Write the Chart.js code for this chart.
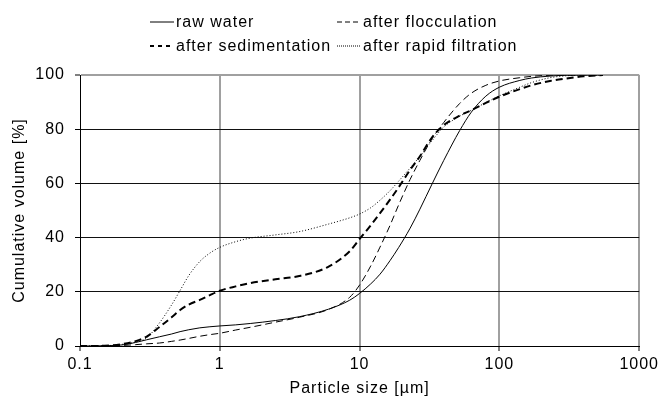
<!DOCTYPE html>
<html>
<head>
<meta charset="utf-8">
<script src="https://cdn.jsdelivr.net/npm/chart.js@4.4.1/dist/chart.umd.min.js"></script>
<style>
  html, body { margin: 0; padding: 0; background: #fff; }
  #wrap { width: 663px; height: 402px; }
</style>
</head>
<body>
<div id="wrap"><canvas id="myChart"></canvas></div>
<script>
// particle sizes [µm] the curves were read at
const sizes = [0.1, 0.15, 0.2, 0.25, 0.3, 0.37, 0.45, 0.52, 0.6, 0.72, 0.85, 1, 1.3, 1.65, 2.5, 3.7, 6, 8.5, 10, 12, 14, 16.5, 19, 23, 27, 33, 40, 52, 63, 80, 100, 140, 170, 230, 300, 400, 550];

const rawWater = [0, 0.1, 0.4, 1.3, 2.3, 3.4, 4.4, 5.3, 6.0, 6.7, 7.1, 7.4, 7.8, 8.3, 9.4, 10.8, 13.6, 16.9, 19.4, 22.9, 26.5, 31.5, 36.3, 43.5, 50.5, 59.8, 68.5, 79.5, 86.3, 92.2, 95.5, 98, 98.9, 99.6, 99.9, 100, 100];
const afterFlocculation = [0, 0, 0.2, 0.5, 0.8, 1.1, 1.7, 2.2, 2.8, 3.6, 4.2, 4.7, 5.9, 6.9, 8.8, 10.6, 13.5, 18, 22.5, 29.5, 36.5, 44.5, 52, 61.5, 68.5, 76.5, 82.5, 89.5, 93.3, 96.2, 97.8, 99, 99.5, 99.9, 100, 100, 100];
const afterSedimentation = [0, 0.1, 0.7, 1.8, 3.5, 7, 10.5, 13.3, 15.3, 17, 18.8, 20.4, 22, 23.2, 24.6, 25.8, 29.3, 35, 39.5, 44.5, 49, 54, 58.5, 65, 70, 77, 81.5, 85, 87, 89.7, 92, 94.8, 96.2, 97.8, 98.7, 99.5, 100];
const afterRapidFiltration = [0, 0.1, 0.6, 1.5, 3, 8.5, 15, 20.5, 26, 31.2, 34.3, 36.4, 38.5, 39.8, 41, 42.2, 45, 47.3, 48.7, 51, 53.8, 57.3, 60.8, 65.7, 70, 75.8, 80.8, 84.8, 87, 89.8, 92.3, 95.5, 97.2, 99, 99.7, 100, 100];

const seriesNames = ["raw water", "after flocculation", "after sedimentation", "after rapid filtration"];
const xTicks = [0.1, 1, 10, 100, 1000];
const xTickLabels = ["0.1", "1", "10", "100", "1000"];
const yTicks = [0, 20, 40, 60, 80, 100];

const FONT = "'Liberation Sans', Arial, sans-serif";

function pts(values) {
    return sizes.map((s, i) => ({ x: s, y: values[i] }));
}

// canvas text is a bit wider in the original
function spacing(chart) {
    chart.ctx.letterSpacing = '1px';
}

const legendPlugin = {
    id: 'twoRowLegend',
    beforeLayout: spacing,
    beforeDraw: spacing,
    afterDraw(chart) {
        const ctx = chart.ctx;
        const spots = [
            { i: 0, x: 150, y: 22 },
            { i: 1, x: 337, y: 22 },
            { i: 2, x: 150, y: 46 },
            { i: 3, x: 337, y: 46 }
        ];
        ctx.save();
        spots.forEach(s => {
            const ds = chart.data.datasets[s.i];
            ctx.beginPath();
            ctx.setLineDash(ds.legendDash);
            ctx.lineWidth = ds.borderWidth;
            ctx.strokeStyle = ds.borderColor;
            ctx.moveTo(s.x, s.y);
            ctx.lineTo(s.x + 24, s.y);
            ctx.stroke();
            ctx.setLineDash([]);
            ctx.fillStyle = '#000';
            ctx.font = '16px ' + FONT;
            ctx.textBaseline = 'middle';
            ctx.textAlign = 'left';
            ctx.fillText(ds.label, s.x + 26, s.y + 1);
        });
        ctx.restore();
    }
};

new Chart(document.getElementById('myChart').getContext('2d'), {
    type: 'line',
    data: {
        datasets: [
            {
                label: seriesNames[0],
                data: pts(rawWater),
                borderColor: '#000',
                borderWidth: 1,
                borderDash: [],
                legendDash: []
            },
            {
                label: seriesNames[1],
                data: pts(afterFlocculation),
                borderColor: '#000',
                borderWidth: 1,
                borderDash: [7, 4],
                legendDash: [5, 3]
            },
            {
                label: seriesNames[2],
                data: pts(afterSedimentation),
                borderColor: '#000',
                borderWidth: 2,
                borderDash: [7, 4],
                legendDash: [4, 4]
            },
            {
                label: seriesNames[3],
                data: pts(afterRapidFiltration),
                borderColor: '#000',
                borderWidth: 1,
                borderDash: [1, 2],
                legendDash: [1, 1]
            }
        ]
    },
    options: {
        responsive: true,
        maintainAspectRatio: false,
        animation: false,
        devicePixelRatio: 1,
        layout: { padding: { top: 75, right: 22, left: 0, bottom: 0 } },
        elements: {
            point: { radius: 0 },
            line: { cubicInterpolationMode: 'monotone', fill: false }
        },
        plugins: {
            legend: { display: false },
            tooltip: { enabled: false }
        },
        scales: {
            x: {
                type: 'logarithmic',
                min: 0.1,
                max: 1000,
                afterBuildTicks: scale => { scale.ticks = xTicks.map(v => ({ value: v })); },
                afterFit: scale => { scale.height = 56; },
                grid: {
                    color: c => c.tick && c.tick.value === 0.1 ? 'rgba(0,0,0,0)' : '#a0a0a0',
                    lineWidth: 2,
                    tickColor: '#000',
                    tickWidth: 1,
                    tickLength: 5
                },
                border: { color: '#000', width: 1 },
                ticks: {
                    color: '#000',
                    font: { family: FONT, size: 16 },
                    padding: 4,
                    maxRotation: 0,
                    callback: (v, i) => xTickLabels[i]
                },
                title: {
                    display: true,
                    text: 'Particle size [µm]',
                    color: '#000',
                    font: { family: FONT, size: 16 },
                    padding: { top: 0, bottom: 4 }
                }
            },
            y: {
                min: 0,
                max: 100,
                afterBuildTicks: scale => { scale.ticks = yTicks.map(v => ({ value: v })); },
                afterFit: scale => { scale.width = 80; },
                grid: {
                    color: c => c.tick && c.tick.value === 100 ? '#a0a0a0' : '#111',
                    lineWidth: c => c.tick && c.tick.value === 100 ? 2 : 1,
                    tickColor: '#000',
                    tickWidth: 1,
                    tickLength: 5
                },
                border: { color: '#000', width: 1 },
                ticks: {
                    color: '#000',
                    font: { family: FONT, size: 16 },
                    padding: 10
                },
                title: {
                    display: true,
                    text: 'Cumulative volume [%]',
                    color: '#000',
                    font: { family: FONT, size: 16 },
                    padding: { top: 10, bottom: 0 }
                }
            }
        }
    },
    plugins: [legendPlugin]
});
</script>
</body>
</html>
